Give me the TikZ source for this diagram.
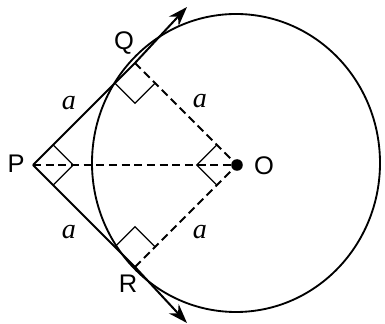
\documentclass[tikz,border=0pt]{standalone}
\usepackage{fontspec}
\setmainfont{Liberation Sans}
\newfontfamily\sideserif{Liberation Serif}
\usetikzlibrary{arrows.meta,calc}
\definecolor{figInk}{RGB}{0,0,0}
\definecolor{figWhite}{RGB}{255,255,255}
\tikzset{
  tangentline/.style={draw=figInk,line width=1.15pt,-{Stealth[length=3.9mm,width=2.7mm]}},
  radiusline/.style={draw=figInk,line width=1.05pt,dash pattern=on 4.6pt off 2.6pt},
  rimline/.style={draw=figInk,line width=1.05pt},
  rightmark/.style={draw=figInk,line width=0.75pt},
  ptlabel/.style={font=\fontsize{14.5}{16}\selectfont,text=figInk,inner sep=1pt},
  sidelabel/.style={font=\sideserif\itshape\fontsize{16}{18}\selectfont,text=figInk,inner sep=1pt},
}

\begin{document}
\begin{tikzpicture}[x=0.02cm,y=0.02cm]
  \useasboundingbox[fill=figWhite] (-237,-159) rectangle (148,165);

  \coordinate (O) at (0,0);
  \coordinate (P) at (-204,0);
  \coordinate (Q) at (-102,102);
  \coordinate (R) at (-102,-102);
  \coordinate (qtip) at (-50,158);
  \coordinate (rtip) at (-50,-158);

  % Circle (a touch taller than wide, as printed) and the two tangents from P.
  \draw[rimline] (-1,2) ellipse [x radius=144,y radius=149];
  \draw[tangentline] (P) -- (Q) -- (qtip);
  \draw[tangentline] (P) -- (R) -- (rtip);

  % Radii to the points of contact, and the line PO.
  \draw[radiusline] (Q) -- (O);
  \draw[radiusline] (R) -- (O);
  \draw[radiusline] (P) -- (O);

  % Right-angle marks.
  \foreach \v/\u/\w in {Q/P/O,R/P/O,P/Q/R,O/Q/R}{
    \coordinate (ma) at ($(\v)!0.57cm!(\u)$);
    \coordinate (mb) at ($(\v)!0.57cm!(\w)$);
    \draw[rightmark] (ma) -- ($(ma)+(mb)-(\v)$) -- (mb);
  }

  \fill[figInk] (O) circle (3.3pt);

  % Labels.
  \node[ptlabel] (lP) at (-221,1) {P};
  \node[ptlabel] (lQ) at (-113,122) {Q};
  \node[ptlabel] (lR) at (-109,-119) {R};
  \node[ptlabel] (lO) at (27,-1) {O};
  \node[sidelabel] (aPQ) at (-168,62) {a};
  \node[sidelabel] (aQO) at (-37,64) {a};
  \node[sidelabel] (aPR) at (-168,-67) {a};
  \node[sidelabel] (aRO) at (-37,-67) {a};
\end{tikzpicture}
\end{document}
